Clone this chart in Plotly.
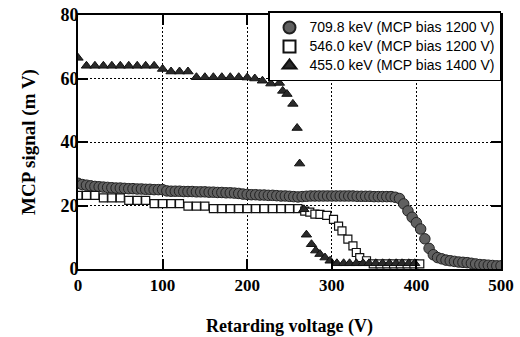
import plotly.graph_objects as go

# 709.8 keV (MCP bias 1200 V) - circles, 5 V steps
x_709 = list(range(0, 505, 5))
y_709 = [27.0, 26.6, 26.4, 26.2, 26.0, 25.9, 25.8, 25.7, 25.6, 25.5,
         25.5, 25.4, 25.3, 25.3, 25.2, 25.2, 25.1, 25.1, 25.0, 25.0,
         25.0, 24.6, 24.5, 24.5, 24.5, 24.4, 24.4, 24.4, 24.3, 24.3,
         24.3, 24.2, 24.2, 24.1, 24.1, 24.0, 24.0, 23.9, 23.8, 23.6,
         23.5, 23.4, 23.4, 23.3, 23.3, 23.2, 23.2, 23.1, 23.0, 23.0,
         22.9, 22.8, 22.7, 22.8, 22.9, 23.0, 23.0, 23.0, 23.0, 23.0,
         23.0, 23.0, 23.0, 23.0, 23.0, 23.0, 22.9, 22.9, 22.9, 22.9,
         22.8, 22.8, 22.8, 22.8, 22.8, 22.6, 22.2, 20.5, 18.3, 16.3,
         14.6, 12.6, 9.5, 6.5, 4.5, 3.6, 3.2, 2.8, 2.6, 2.4,
         2.2, 2.1, 2.0, 1.8, 1.6, 1.4, 1.3, 1.2, 1.1, 1.0, 1.0]

# 546.0 keV (MCP bias 1200 V) - open squares
x_546 = [0, 10, 20, 30, 40, 50, 60, 70, 80, 90, 100, 110, 120, 130, 140, 150,
         160, 170, 180, 190, 200, 210, 220, 230, 240, 250, 260,
         268, 274, 280, 286, 294, 302, 308, 312, 319, 325, 329, 333, 341,
         349, 357, 365, 373, 381, 389, 397, 404]
y_546 = [23.2, 23.2, 23.2, 22.4, 22.4, 22.4, 21.6, 21.6, 21.6, 20.6, 20.6, 20.6, 20.6,
         19.8, 19.8, 19.8,
         19.0, 19.0, 19.0, 19.0, 19.0, 19.0, 19.0, 19.0, 19.0, 19.0, 19.0,
         18.2, 17.9, 17.3, 17.2, 16.9, 15.6, 13.5, 12.0, 9.4, 7.3, 5.2, 3.6, 2.6,
         1.6, 1.6, 1.6, 1.6, 1.6, 1.6, 1.6, 1.6]

# 455.0 keV (MCP bias 1400 V) - filled triangles
x_455 = [0, 10, 20, 30, 40, 50, 60, 70, 80, 90, 100, 110, 120, 130,
         140, 150, 160, 170, 180, 190, 200, 209, 218, 228, 238, 242, 247, 254, 259,
         262, 267, 270, 276, 281, 286, 292, 298,
         306, 314, 321, 329, 337, 344, 352, 360, 368, 376, 383, 391, 398]
y_455 = [66.5, 64.0, 64.0, 64.0, 64.0, 64.0, 64.0, 64.0, 64.0, 64.0, 63.0, 62.2, 62.2, 62.2,
         60.4, 60.4, 60.4, 60.4, 60.4, 60.4, 60.3, 60.0, 59.3, 58.4, 58.6, 56.1, 55.1, 52.0, 44.4,
         33.2, 18.8, 10.8, 7.8, 5.8, 4.7, 3.6, 2.6,
         1.8, 1.8, 1.8, 1.8, 1.8, 1.8, 1.8, 1.8, 1.8, 1.8, 1.8, 1.8, 1.8]

names = ["709.8 keV (MCP bias 1200 V)",
         "546.0 keV (MCP bias 1200 V)",
         "455.0 keV (MCP bias 1400 V)"]

x_ticks = [0, 100, 200, 300, 400, 500]
y_ticks = [0, 20, 40, 60, 80]


def legend_label(s):
    return '<span style="font-size:14px">' + s + '</span>'


fig = go.Figure()
fig.add_trace(go.Scatter(x=x_709, y=y_709, mode="markers", name=legend_label(names[0]),
                         marker=dict(symbol="circle", size=10.5, color="#606060",
                                     line=dict(color="#222222", width=1))))
fig.add_trace(go.Scatter(x=x_546, y=y_546, mode="markers", name=legend_label(names[1]),
                         marker=dict(symbol="square", size=8, color="white",
                                     line=dict(color="#111111", width=1.2))))
fig.add_trace(go.Scatter(x=x_455, y=y_455, mode="markers", name=legend_label(names[2]),
                         marker=dict(symbol="triangle-up", size=9, color="#2a2a2a",
                                     line=dict(color="#111111", width=1))))

xtickfont = dict(family="Liberation Serif", size=17, color="black", weight="bold")
ytickfont = dict(family="Liberation Serif", size=18, color="black", weight="bold")
xtitlefont = dict(family="Liberation Serif", size=18, color="black", weight="bold")
ytitlefont = dict(family="Liberation Serif", size=19, color="black", weight="bold")

fig.update_layout(
    width=520, height=337,
    margin=dict(l=78, r=19, t=14, b=68),
    paper_bgcolor="white", plot_bgcolor="white",
    showlegend=True,
    legend=dict(x=1.0, xanchor="right", y=1.01, yanchor="top",
                bgcolor="white", bordercolor="black", borderwidth=1.5,
                font=dict(family="Liberation Sans", size=11, color="black"),
                itemsizing="constant"),
    xaxis=dict(range=[0, 500], tickvals=x_ticks, ticktext=[str(v) for v in x_ticks],
               showline=True, linecolor="black", linewidth=2, mirror="ticks",
               ticks="inside", ticklen=10, tickwidth=1.5, tickcolor="black",
               showgrid=True, gridcolor="black", gridwidth=1, griddash="2px,2px",
               zeroline=False, tickfont=xtickfont, automargin=False,
               title=dict(text="Retarding voltage (V)", font=xtitlefont, standoff=25)),
    yaxis=dict(range=[0, 80], tickvals=y_ticks, ticktext=[str(v) for v in y_ticks],
               showline=True, linecolor="black", linewidth=2, mirror="ticks",
               ticks="inside", ticklen=10, tickwidth=1.5, tickcolor="black",
               showgrid=True, gridcolor="black", gridwidth=1, griddash="2px,2px",
               zeroline=False, tickfont=ytickfont, ticklabelstandoff=-6,
               automargin=False,
               title=dict(text="MCP signal (m V)", font=ytitlefont, standoff=20)),
)

fig.write_html("out.html")
